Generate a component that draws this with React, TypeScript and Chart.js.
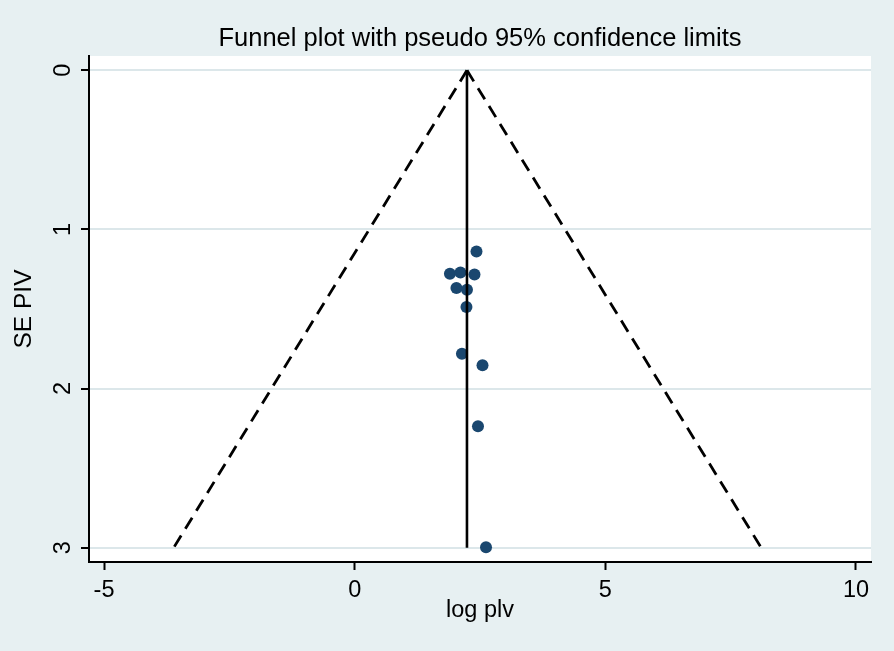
import React, { useEffect, useRef } from "react";
import { Chart, registerables } from "chart.js";

Chart.register(...registerables);

// Study estimates (x) and their standard errors (y)
const logPlv = [2.43, 1.9, 2.11, 2.39, 2.03, 2.24, 2.23, 2.14, 2.55, 2.46, 2.62];
const sePiv = [1.138, 1.278, 1.27, 1.283, 1.368, 1.379, 1.487, 1.781, 1.854, 2.237, 2.997];

// Pooled estimate line and pseudo 95% confidence limits
const pooledX = [2.24, 2.24];
const pooledY = [0, 3];
const lowerLimitX = [2.24, -3.61];
const upperLimitX = [2.24, 8.11];
const limitY = [0, 3];

const xTicks = [-5, 0, 5, 10];
const yTicks = [0, 1, 2, 3];
const xRange = [-5.3, 10.3];
const yRange = [-0.09, 3.09];

const titleText = "Funnel plot with pseudo 95% confidence limits";
const xTitle = "log plv";
const yTitle = "SE PIV";

const FONT = "'Liberation Sans', Arial, Helvetica, sans-serif";
const BG = "#E7F0F2";
const GRID = "#DCE7EA";
const MARKER = "#1A476F";

const toPts = (xs: number[], ys: number[]) => xs.map((x, i) => ({ x, y: ys[i] }));

const bgPlugin = {
  id: "stataBg",
  beforeDraw(chart: any) {
    const { ctx, chartArea: a, width, height } = chart;
    ctx.save();
    ctx.fillStyle = BG;
    ctx.fillRect(0, 0, width, height);
    ctx.fillStyle = "#ffffff";
    ctx.fillRect(a.left, a.top, a.right - a.left, a.bottom - a.top);
    ctx.restore();
  },
};

export default function App() {
  const ref = useRef<HTMLCanvasElement | null>(null);

  useEffect(() => {
    if (!ref.current) return;
    const chart = new Chart(ref.current, {
      type: "scatter",
      data: {
        datasets: [
          {
            label: "pooled",
            data: toPts(pooledX, pooledY),
            showLine: true,
            borderColor: "#000",
            borderWidth: 2.6,
            pointRadius: 0,
            order: 0,
          },
          {
            label: "lower",
            data: toPts(lowerLimitX, limitY),
            showLine: true,
            borderColor: "#000",
            borderWidth: 2.8,
            borderDash: [13, 8],
            pointRadius: 0,
            order: 0,
          },
          {
            label: "upper",
            data: toPts(upperLimitX, limitY),
            showLine: true,
            borderColor: "#000",
            borderWidth: 2.8,
            borderDash: [13, 8],
            pointRadius: 0,
            order: 0,
          },
          {
            label: "studies",
            data: toPts(logPlv, sePiv),
            pointRadius: 6,
            pointBackgroundColor: MARKER,
            pointBorderWidth: 0,
            order: 1,
          },
        ],
      },
      options: {
        responsive: false,
        animation: false,
        events: [],
        layout: { padding: { left: 0, right: 23, top: 0, bottom: 0 } },
        plugins: {
          legend: { display: false },
          tooltip: { enabled: false },
          title: {
            display: true,
            fullSize: false,
            text: titleText,
            color: "#000",
            font: { family: FONT, size: 25.5, weight: "normal" },
            padding: { top: 24, bottom: 1.4 },
          },
        },
        scales: {
          x: {
            type: "linear",
            min: xRange[0],
            max: xRange[1],
            afterBuildTicks: (s: any) => {
              s.ticks = xTicks.map((v) => ({ value: v }));
            },
            afterFit: (s: any) => {
              s.height = 89;
            },
            grid: { drawOnChartArea: false, tickLength: 8, tickWidth: 2, tickColor: "#000" },
            border: { color: "#000", width: 2 },
            ticks: {
              color: "#000",
              font: { family: FONT, size: 23.5 },
              padding: 6,
              maxRotation: 0,
              minRotation: 0,
            },
            title: {
              display: true,
              text: xTitle,
              color: "#000",
              font: { family: FONT, size: 23.5 },
              padding: { top: 0, bottom: 26 },
            },
          },
          y: {
            type: "linear",
            reverse: true,
            min: yRange[0],
            max: yRange[1],
            afterBuildTicks: (s: any) => {
              s.ticks = yTicks.map((v) => ({ value: v }));
            },
            afterFit: (s: any) => {
              s.width = 89;
            },
            grid: { color: GRID, lineWidth: 2, tickLength: 8, tickWidth: 2, tickColor: "#000" },
            border: { color: "#000", width: 2 },
            ticks: {
              color: "#000",
              font: { family: FONT, size: 23.5 },
              minRotation: 90,
              maxRotation: 90,
              crossAlign: "center",
              padding: 11,
            },
            title: {
              display: true,
              text: yTitle,
              color: "#000",
              font: { family: FONT, size: 24.5 },
              padding: { top: 10, bottom: 0 },
            },
          },
        },
      },
      plugins: [bgPlugin],
    } as any);
    return () => chart.destroy();
  }, []);

  return (
    <div style={{ position: "absolute", left: 0, top: 0, width: 894, height: 651 }}>
      <canvas ref={ref} width={894} height={651} style={{ display: "block", width: 894, height: 651 }} />
    </div>
  );
}
